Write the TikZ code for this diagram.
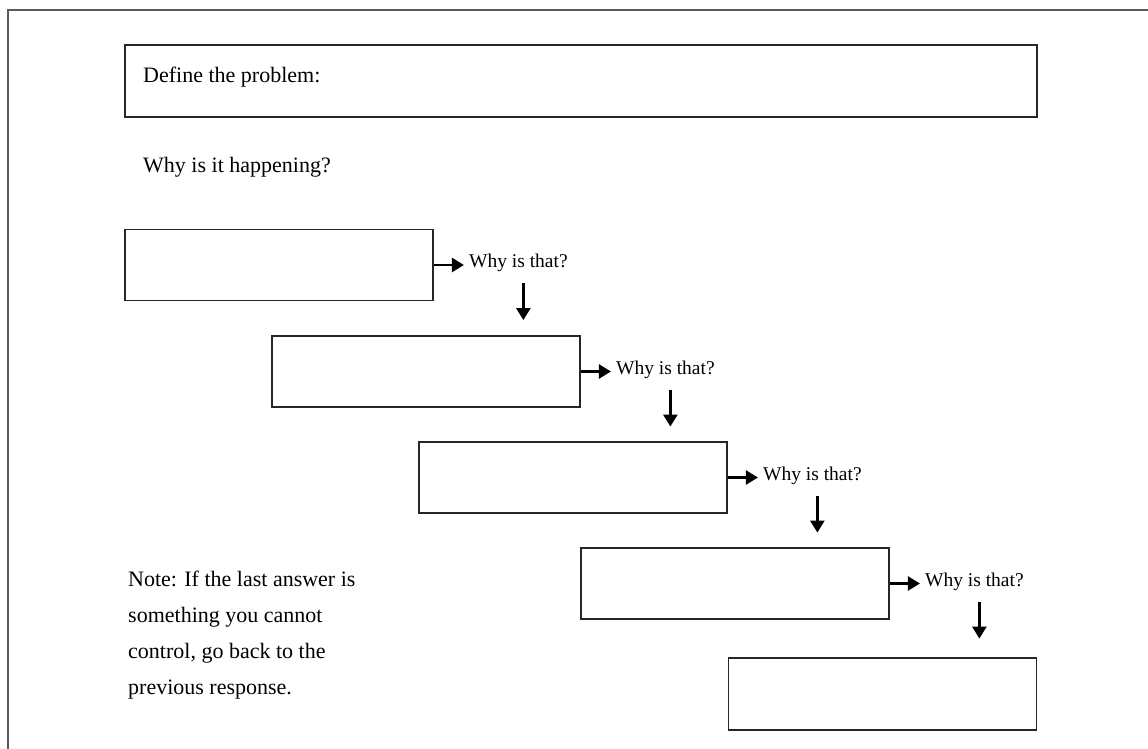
\documentclass[tikz,border=0pt]{standalone}
\usepackage{fontspec}
\setmainfont{Liberation Serif}
\usetikzlibrary{arrows.meta,positioning}
\tikzstyle{box}=[draw=black!85, line width=1.8pt, minimum width=308pt, minimum height=71pt, inner sep=0pt]
\tikzstyle{arrow}=[line width=2.6pt,-{Triangle[length=12pt,width=14pt]}]
\tikzstyle{why}=[font=\fontsize{19.5}{23}\selectfont, inner sep=5pt]
\begin{document}
\begin{tikzpicture}[x=1pt,y=-1pt,node distance=30pt,font=\fontsize{22}{36}\selectfont]
\useasboundingbox (0,0) rectangle (1148,749);
% outer frame
\draw[line width=1.8pt, black!65] (8,749) -- (8,10) -- (1148,10);
\node (define) [box, minimum width=912pt, minimum height=72pt] at (581,81) {};
\node (definetxt) [anchor=base west, inner sep=0pt] at (143,83) {Define the problem:};
\node (happen) [anchor=base west, inner sep=0pt] at (143,172) {Why is it happening?};
% answer boxes
\node (b1) [box] at (279,265) {};
\node (b2) [box] at (426,371.5) {};
\node (b3) [box] at (573,477.5) {};
\node (b4) [box] at (735,583.5) {};
\node (b5) [box, minimum height=72pt] at (882.5,694) {};
\foreach \i in {1,...,4} {
  \node (why\i) [why, right=of b\i, yshift=2pt] {Why is that?};
  \draw[arrow] (b\i) -- (b\i -| why\i.west);
  \draw[arrow] ([xshift=5pt,yshift=-6pt]why\i.south) -- ++(0,37);
}
\node (note) [anchor=north west, inner sep=0pt, align=left] at (128,571)
  {Note: If the last answer is\\something you cannot\\control, go back to the\\previous response.};
\end{tikzpicture}
\end{document}
